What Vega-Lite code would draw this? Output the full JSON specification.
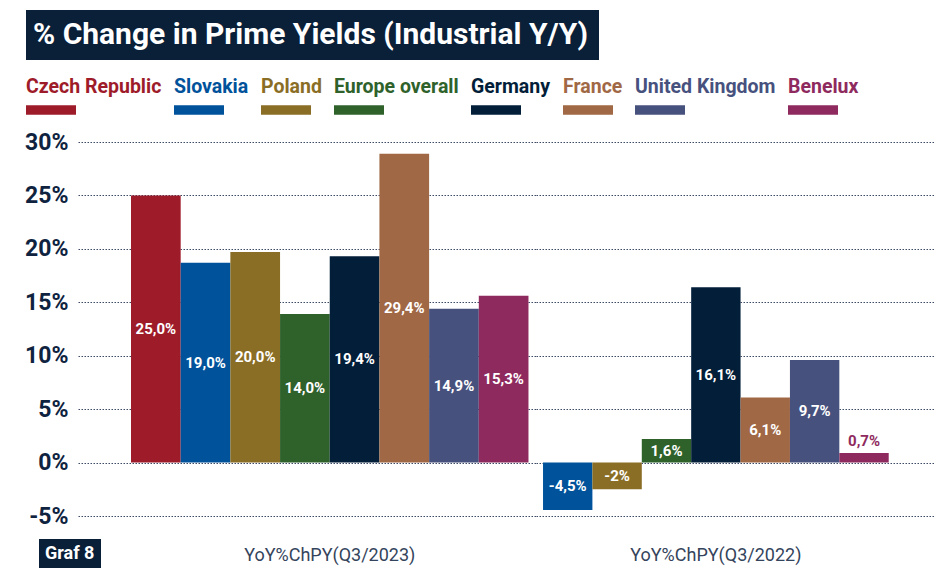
{
  "$schema": "https://vega.github.io/schema/vega-lite/v6.json",
  "background": "white",
  "padding": {"left": 24, "top": 10, "right": 0, "bottom": 0},
  "config": {
    "font": "Roboto",
    "view": {"stroke": null}
  },
  "datasets": {
    "yields": [
      {"period": "YoY%ChPY(Q3/2023)", "country": "Czech Republic", "value": 25.0, "label": "25,0%"},
      {"period": "YoY%ChPY(Q3/2023)", "country": "Slovakia", "value": 18.7, "label": "19,0%"},
      {"period": "YoY%ChPY(Q3/2023)", "country": "Poland", "value": 19.7, "label": "20,0%"},
      {"period": "YoY%ChPY(Q3/2023)", "country": "Europe overall", "value": 13.9, "label": "14,0%"},
      {"period": "YoY%ChPY(Q3/2023)", "country": "Germany", "value": 19.3, "label": "19,4%"},
      {"period": "YoY%ChPY(Q3/2023)", "country": "France", "value": 28.9, "label": "29,4%"},
      {"period": "YoY%ChPY(Q3/2023)", "country": "United Kingdom", "value": 14.4, "label": "14,9%"},
      {"period": "YoY%ChPY(Q3/2023)", "country": "Benelux", "value": 15.6, "label": "15,3%"},
      {"period": "YoY%ChPY(Q3/2022)", "country": "Slovakia", "value": -4.45, "label": "-4,5%"},
      {"period": "YoY%ChPY(Q3/2022)", "country": "Poland", "value": -2.5, "label": "-2%"},
      {"period": "YoY%ChPY(Q3/2022)", "country": "Europe overall", "value": 2.2, "label": "1,6%"},
      {"period": "YoY%ChPY(Q3/2022)", "country": "Germany", "value": 16.4, "label": "16,1%"},
      {"period": "YoY%ChPY(Q3/2022)", "country": "France", "value": 6.1, "label": "6,1%"},
      {"period": "YoY%ChPY(Q3/2022)", "country": "United Kingdom", "value": 9.6, "label": "9,7%"},
      {"period": "YoY%ChPY(Q3/2022)", "country": "Benelux", "value": 0.9, "label": "0,7%"}
    ]
  },
  "spacing": 0,
  "resolve": {"scale": {"x": "independent", "xOffset": "independent"}},
  "hconcat": [
    {
      "width": 457.5,
      "height": 374,
      "data": {"name": "yields"},
      "transform": [
        {"filter": "datum.period === 'YoY%ChPY(Q3/2023)'"},
        {"calculate": "datum.value / 2", "as": "mid"}
      ],
      "encoding": {
        "x": {
          "field": "period", "type": "nominal", "title": null,
          "scale": {"paddingInner": 0, "paddingOuter": 0.0755, "align": 0.883},
          "axis": {"labelAngle": 0, "domain": false, "ticks": false, "grid": false, "labelPadding": 30, "labelFontSize": 18, "labelColor": "#34445c", "labelLimit": 400}
        },
        "xOffset": {
          "field": "country", "type": "nominal",
          "sort": ["Czech Republic", "Slovakia", "Poland", "Europe overall", "Germany", "France", "United Kingdom", "Benelux"],
          "scale": {"paddingInner": 0, "paddingOuter": 0}
        }
      },
      "layer": [
        {
          "mark": {"type": "bar", "strokeWidth": 0},
          "encoding": {
            "y": {
              "field": "value", "type": "quantitative", "title": null,
              "scale": {"domain": [-5, 30], "nice": false, "zero": false},
              "axis": {"values": [-5, 0, 5, 10, 15, 20, 25, 30], "labelExpr": "datum.value + '%'", "domain": false, "ticks": false, "labelPadding": 10, "labelFontSize": 23, "labelFontWeight": "bold", "labelColor": "#0f2340", "grid": true, "gridColor": "#3d4a66", "gridDash": [1.5, 1.5], "gridWidth": 1}
            },
            "color": {
              "field": "country", "type": "nominal",
              "scale": {
                "domain": ["Czech Republic", "Slovakia", "Poland", "Europe overall", "Germany", "France", "United Kingdom", "Benelux"],
                "range": ["#9e1b2a", "#00529b", "#8b6e25", "#2f622b", "#021e38", "#a16845", "#47517e", "#8f2a5e"]
              },
              "legend": {
                "orient": "none", "legendX": -52, "legendY": -74, "direction": "horizontal", "columns": 8, "columnPadding": 12, "title": null,
                "symbolType": "M-1,0.48H1V0.86H-1Z", "symbolSize": 2500, "symbolStrokeWidth": 0, "symbolOpacity": 1,
                "labelOffset": -50, "labelBaseline": "alphabetic", "labelFont": "Roboto", "labelFontSize": 19.5, "labelFontWeight": "bold",
                "labelColor": {"expr": "scale('color', datum.value)"}, "labelLimit": 300
              }
            },
            "stroke": {
              "datum": "Graf 8", "type": "nominal",
              "scale": {"domain": ["Graf 8"], "range": ["#0a2039"]},
              "legend": {
                "orient": "none", "legendX": -39, "legendY": 397, "title": null,
                "fillColor": "#0a2039", "padding": 6,
                "symbolSize": 0, "symbolStrokeWidth": 0, "symbolOpacity": 0,
                "labelOffset": -18, "labelColor": "white", "labelFont": "Roboto", "labelFontSize": 18, "labelFontWeight": "bold"
              }
            }
          }
        },
        {
          "data": {"values": [{"t": "% Change in Prime Yields (Industrial Y/Y)"}]},
          "transform": [],
          "mark": {"type": "text", "text": ""},
          "encoding": {
            "x": {"datum": "YoY%ChPY(Q3/2023)", "type": "nominal"},
            "xOffset": {"datum": "Czech Republic", "type": "nominal"},
            "opacity": {
              "field": "t", "type": "nominal",
              "scale": {"range": [1]},
              "legend": {
                "orient": "none", "legendX": -52, "legendY": -132, "title": null,
                "fillColor": "#0a2039", "padding": 10,
                "symbolSize": 0, "symbolStrokeWidth": 0, "symbolOpacity": 0,
                "labelOffset": -33, "labelColor": "white", "labelFont": "Roboto", "labelFontSize": 30, "labelFontWeight": "bold", "labelLimit": 800
              }
            }
          }
        },
        {
          "transform": [{"filter": "abs(datum.value) >= 1.5"}],
          "mark": {"type": "text", "color": "white", "font": "Roboto", "fontWeight": "bold", "fontSize": 15, "baseline": "middle"},
          "encoding": {
            "y": {"field": "mid", "type": "quantitative", "title": null, "scale": {"domain": [-5, 30], "nice": false, "zero": false}},
            "text": {"field": "label", "type": "nominal"}
          }
        },
        {
          "transform": [{"filter": "abs(datum.value) < 1.5"}],
          "mark": {"type": "text", "font": "Roboto", "fontWeight": "bold", "fontSize": 15, "baseline": "bottom", "dy": -4},
          "encoding": {
            "y": {"field": "value", "type": "quantitative", "title": null, "scale": {"domain": [-5, 30], "nice": false, "zero": false}},
            "text": {"field": "label", "type": "nominal"},
            "color": {"field": "country", "type": "nominal", "legend": null}
          }
        }
      ]
    },
    {
      "width": 401,
      "height": 374,
      "data": {"name": "yields"},
      "transform": [
        {"filter": "datum.period === 'YoY%ChPY(Q3/2022)'"},
        {"calculate": "datum.value / 2", "as": "mid"}
      ],
      "encoding": {
        "x": {
          "field": "period", "type": "nominal", "title": null,
          "scale": {"paddingInner": 0, "paddingOuter": 0.08, "align": 0.127},
          "axis": {"labelAngle": 0, "domain": false, "ticks": false, "grid": false, "labelPadding": 30, "labelFontSize": 18, "labelColor": "#34445c", "labelLimit": 400}
        },
        "xOffset": {
          "field": "country", "type": "nominal",
          "sort": ["Slovakia", "Poland", "Europe overall", "Germany", "France", "United Kingdom", "Benelux"],
          "scale": {"paddingInner": 0, "paddingOuter": 0}
        }
      },
      "layer": [
        {
          "mark": {"type": "bar"},
          "encoding": {
            "y": {
              "field": "value", "type": "quantitative", "title": null,
              "scale": {"domain": [-5, 30], "nice": false, "zero": false},
              "axis": {"values": [-5, 0, 5, 10, 15, 20, 25, 30], "labels": false, "domain": false, "ticks": false, "grid": true, "gridColor": "#3d4a66", "gridDash": [1.5, 1.5], "gridWidth": 1}
            },
            "color": {
              "field": "country", "type": "nominal",
              "scale": {
                "domain": ["Czech Republic", "Slovakia", "Poland", "Europe overall", "Germany", "France", "United Kingdom", "Benelux"],
                "range": ["#9e1b2a", "#00529b", "#8b6e25", "#2f622b", "#021e38", "#a16845", "#47517e", "#8f2a5e"]
              },
              "legend": {
                "orient": "none", "legendX": -52, "legendY": -74, "direction": "horizontal", "columns": 8, "columnPadding": 12, "title": null,
                "symbolType": "M-1,0.48H1V0.86H-1Z", "symbolSize": 2500, "symbolStrokeWidth": 0, "symbolOpacity": 1,
                "labelOffset": -50, "labelBaseline": "alphabetic", "labelFont": "Roboto", "labelFontSize": 19.5, "labelFontWeight": "bold",
                "labelColor": {"expr": "scale('color', datum.value)"}, "labelLimit": 300
              }
            }
          }
        },
        {
          "transform": [{"filter": "abs(datum.value) >= 1.5"}],
          "mark": {"type": "text", "color": "white", "font": "Roboto", "fontWeight": "bold", "fontSize": 15, "baseline": "middle"},
          "encoding": {
            "y": {"field": "mid", "type": "quantitative", "title": null, "scale": {"domain": [-5, 30], "nice": false, "zero": false}},
            "text": {"field": "label", "type": "nominal"}
          }
        },
        {
          "transform": [{"filter": "abs(datum.value) < 1.5"}],
          "mark": {"type": "text", "font": "Roboto", "fontWeight": "bold", "fontSize": 15, "baseline": "bottom", "dy": -4},
          "encoding": {
            "y": {"field": "value", "type": "quantitative", "title": null, "scale": {"domain": [-5, 30], "nice": false, "zero": false}},
            "text": {"field": "label", "type": "nominal"},
            "color": {"field": "country", "type": "nominal", "legend": null}
          }
        }
      ]
    }
  ]
}
